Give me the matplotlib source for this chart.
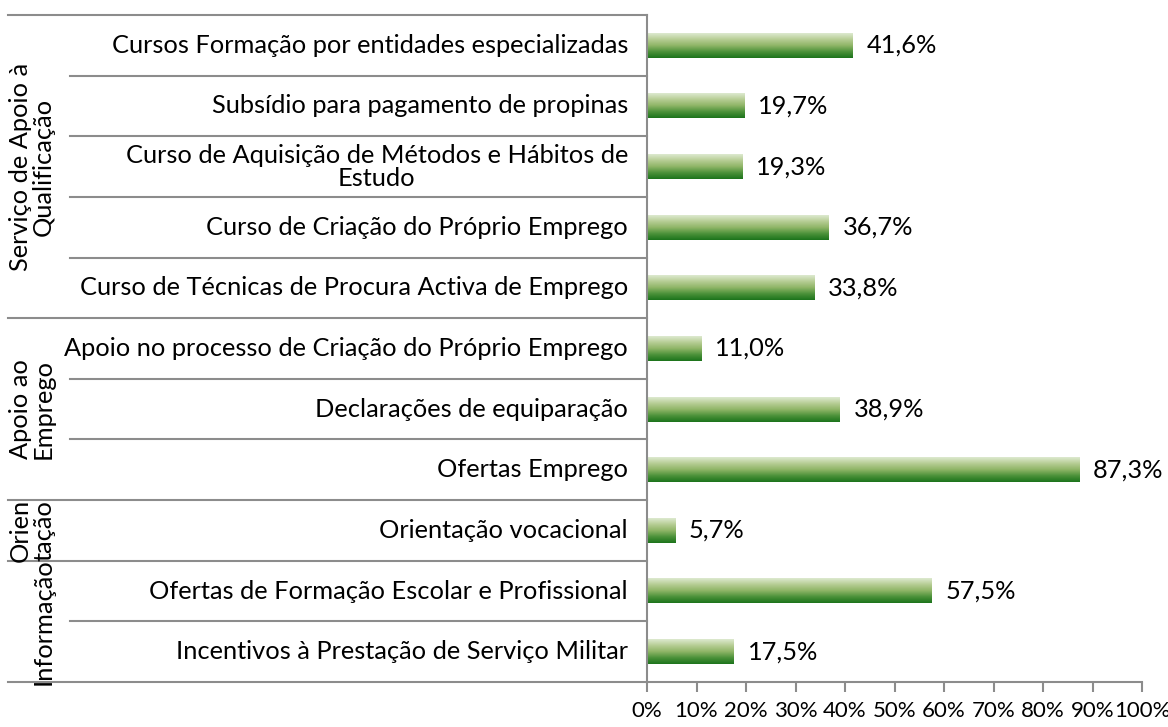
import numpy as np
import matplotlib
matplotlib.use("Agg")
import matplotlib.pyplot as plt
from matplotlib.colors import LinearSegmentedColormap
import matplotlib.transforms as mtransforms

plt.rcParams['font.family'] = ['Lato', 'DejaVu Sans']

# data, top to bottom
categories = [
    "Cursos Formação por entidades especializadas",
    "Subsídio para pagamento de propinas",
    "Curso de Aquisição de Métodos e Hábitos de\nEstudo",
    "Curso de Criação do Próprio Emprego",
    "Curso de Técnicas de Procura Activa de Emprego",
    "Apoio no processo de Criação do Próprio Emprego",
    "Declarações de equiparação",
    "Ofertas Emprego",
    "Orientação vocacional",
    "Ofertas de Formação Escolar e Profissional",
    "Incentivos à Prestação de Serviço Militar",
]
values = [41.6, 19.7, 19.3, 36.7, 33.8, 11.0, 38.9, 87.3, 5.7, 57.5, 17.5]
value_labels = ["41,6%", "19,7%", "19,3%", "36,7%", "33,8%", "11,0%",
                "38,9%", "87,3%", "5,7%", "57,5%", "17,5%"]
groups = ["Serviço de Apoio à\nQualificação", "Apoio ao\nEmprego", "Orien\ntação", "Informação"]
group_sizes = [5, 3, 1, 2]

W, H = 1168, 727
FS = 18.3
fig = plt.figure(figsize=(W / 100, H / 100), dpi=100)
x0, x1, ytop, ybot = 647, 1142, 15, 682
ax = fig.add_axes([x0 / W, 1 - ybot / H, (x1 - x0) / W, (ybot - ytop) / H])

n = len(values)

# gradient bars
cmap = LinearSegmentedColormap.from_list(
    "g", ["#dde9cf", "#b6cd94", "#8fb567", "#4c923a", "#1d741c"])
grad = np.linspace(0, 1, 64).reshape(-1, 1)
bh = 0.205
for i, v in enumerate(values):
    ax.imshow(grad, cmap=cmap, aspect='auto', extent=(0, v, i + bh, i - bh),
              interpolation='bilinear', zorder=2)
    ax.text(v + 2.8, i, value_labels[i], va='center', ha='left', fontsize=FS)
ax.set_xlim(0, 100)
ax.set_ylim(n - 0.5, -0.5)

# axes styling
for s in ['top', 'right']:
    ax.spines[s].set_visible(False)
for s in ['left', 'bottom']:
    ax.spines[s].set_color('#8c8c8c')
    ax.spines[s].set_linewidth(1.5)
ax.set_xticks(np.arange(0, 101, 10))
ax.set_xticklabels([f"{t}%" for t in range(0, 101, 10)], fontsize=16)
ax.tick_params(axis='x', length=7, width=1.5, color='#8c8c8c', pad=7)
ax.set_yticks([])

# category labels and separator lines
tr = mtransforms.blended_transform_factory(ax.transAxes, ax.transData)
ax_w = x1 - x0
inner_x = (70 - x0) / ax_w
outer_x = (8 - x0) / ax_w
lab_x = (628 - x0) / ax_w
for i, c in enumerate(categories):
    ax.text(lab_x, i, c, transform=tr, ha='right', va='center', fontsize=FS,
            multialignment='center', linespacing=1.0)

group_ends = np.cumsum(group_sizes)
bounds = [-0.5] + [i + 0.5 for i in range(n)]
for b in bounds:
    start = outer_x if (b == -0.5 or (b + 0.5) in group_ends) else inner_x
    ax.plot([start, 0], [b, b], transform=tr, color='#8c8c8c', lw=1.5,
            clip_on=False, zorder=3)

# group labels
start = 0
for g, sz in zip(groups, group_sizes):
    mid = start + (sz - 1) / 2
    gx = (32 - x0) / ax_w if "\n" in g else (43 - x0) / ax_w
    ax.text(gx, mid, g, transform=tr, rotation=90, ha='center', va='center',
            fontsize=FS, multialignment='center', linespacing=1.0)
    start += sz

fig.savefig("out.png", dpi=100)
